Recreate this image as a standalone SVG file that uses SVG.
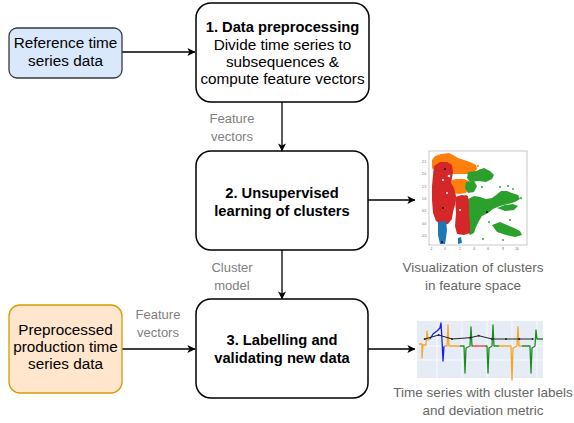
<svg xmlns="http://www.w3.org/2000/svg" width="574" height="423" viewBox="0 0 574 423">
<style>
  .box{fill:#fff;stroke:#000;stroke-width:1.5}
  .t{font-family:"Liberation Sans",Arial,sans-serif;font-size:15.3px;fill:#000;text-anchor:middle}
  .b{font-weight:bold;font-size:14.7px}
  .lbl{font-family:"Liberation Sans",Arial,sans-serif;font-size:13px;fill:#808080;text-anchor:middle}
  .cap{font-family:"Liberation Sans",Arial,sans-serif;font-size:13.5px;fill:#666;text-anchor:middle}
  .edge{stroke:#000;stroke-width:1.3;fill:none;marker-end:url(#arr)}
  .tick{font-family:"Liberation Sans",Arial,sans-serif;font-size:3px;fill:#555;text-anchor:middle}
  .ts{fill:none;stroke-width:1.3;stroke-linejoin:round}
  .o{fill:#ff7f0e}.g{fill:#2ca02c}.r{fill:#d62728}.bl{fill:#1f77b4}
</style>
<defs>
  <marker id="arr" viewBox="0 0 10 10" refX="9.5" refY="5" markerWidth="8" markerHeight="8" markerUnits="userSpaceOnUse" orient="auto">
    <path d="M0,0 L10,5 L0,10 L2.5,5 Z" fill="#000"/>
  </marker>
</defs>

<g id="edges">
  <line class="edge" x1="122" y1="52" x2="195" y2="52"/>
  <line class="edge" x1="282" y1="102" x2="282" y2="151"/>
  <line class="edge" x1="368" y1="200" x2="415" y2="200"/>
  <line class="edge" x1="282" y1="250" x2="282" y2="299"/>
  <line class="edge" x1="122" y1="349" x2="195" y2="349"/>
  <line class="edge" x1="368" y1="349" x2="415" y2="349"/>
  <text class="lbl" x="232" y="123">Feature</text>
  <text class="lbl" x="232" y="141">vectors</text>
  <text class="lbl" x="232" y="272">Cluster</text>
  <text class="lbl" x="232" y="290">model</text>
  <text class="lbl" x="158" y="319">Feature</text>
  <text class="lbl" x="158" y="337">vectors</text>
</g>

<g id="ref">
  <rect x="9" y="28" width="113" height="50" rx="8" fill="#dae8fc" stroke="#36393d" stroke-width="1.3"/>
  <text class="t" x="65.5" y="48">Reference time</text>
  <text class="t" x="65.5" y="66">series data</text>
</g>

<g id="step1">
  <rect class="box" x="196" y="3" width="173" height="99" rx="15"/>
  <text class="t b" x="282.5" y="32">1. Data preprocessing</text>
  <text class="t" x="282.5" y="50">Divide time series to</text>
  <text class="t" x="282.5" y="67">subsequences &amp;</text>
  <text class="t" x="282.5" y="84">compute feature vectors</text>
</g>

<g id="step2">
  <rect class="box" x="196" y="151" width="172" height="99" rx="15"/>
  <text class="t b" x="282" y="198">2. Unsupervised</text>
  <text class="t b" x="282" y="216">learning of clusters</text>
</g>

<g id="step3">
  <rect class="box" x="196" y="299" width="172" height="99" rx="15"/>
  <text class="t b" x="282" y="345">3. Labelling and</text>
  <text class="t b" x="282" y="363">validating new data</text>
</g>

<g id="prod">
  <rect x="9" y="305" width="113" height="88" rx="11" fill="#ffe6cc" stroke="#d79b00" stroke-width="1.3"/>
  <text class="t" x="65.5" y="335">Preprocessed</text>
  <text class="t" x="65.5" y="352">production time</text>
  <text class="t" x="65.5" y="369">series data</text>
</g>

<g id="scatter">
  <rect x="429" y="151" width="98" height="94" fill="#fff" stroke="#bbb" stroke-width="0.8"/>
  <!-- orange -->
  <path class="o" d="M432,160 L435,156 L441,154 L449,153 L453,155 L458,158 L464,160 L470,162 L476,165 L477,169 L474,173 L468,174 L460,174 L452,174 L444,173 L436,172 L432,168 Z"/>
  <path class="o" d="M450,181 L456,179 L464,179 L469,181 L469,188 L466,193 L458,194 L451,193 L449,187 Z"/>
  <circle class="o" cx="478" cy="166" r="1.1"/><circle class="o" cx="480" cy="170" r="1"/><circle class="o" cx="470" cy="178" r="1"/>
  <!-- green -->
  <path class="g" d="M468,172 L476,171 L484,168 L490,171 L494,175 L492,179 L486,182 L478,181 L470,182 L467,178 Z"/>
  <path class="g" d="M466,182 L474,181 L477,186 L474,192 L468,193 L465,188 Z"/>
  <path class="g" d="M468,199 L474,196 L480,197 L486,199 L492,198 L496,195 L501,191 L507,191 L512,193 L518,195 L520,199 L515,202 L508,204 L500,206 L493,209 L488,213 L482,216 L479,221 L476,227 L474,233 L470,235 L467,230 L467,215 Z"/>
  <path class="g" d="M492,225 L500,222 L507,225 L514,228 L520,231 L522,235 L515,237 L506,235 L497,232 Z"/>
  <path class="g" d="M497,208 L505,205 L513,204 L518,206 L514,210 L505,211 Z"/>
  <circle class="g" cx="482" cy="187" r="1"/><circle class="g" cx="500" cy="187" r="1"/><circle class="g" cx="508" cy="186" r="1"/><circle class="g" cx="513" cy="189" r="0.9"/>
  <circle class="g" cx="521" cy="198" r="1"/><circle class="g" cx="489" cy="222" r="1"/><circle class="g" cx="483" cy="239" r="1"/><circle class="g" cx="510" cy="220" r="1"/><circle class="g" cx="503" cy="240" r="0.9"/><circle class="g" cx="466" cy="196" r="1"/>
  <!-- red -->
  <path class="r" d="M434,166 L440,162 L447,162 L452,165 L453,172 L452,178 L451,183 L454,188 L456,196 L455,205 L453,212 L452,219 L448,224 L442,225 L436,221 L433,213 L432,200 L432,186 L433,175 Z"/>
  <path class="r" d="M455,197 L462,195 L468,196 L469,204 L469,214 L470,224 L470,233 L464,235 L457,234 L455,226 L456,213 Z"/>
  <circle cx="449" cy="176" r="1.3" fill="#fff"/><circle cx="443" cy="180" r="1.1" fill="#fff"/><circle cx="447" cy="193" r="0.9" fill="#fff"/><circle cx="460" cy="210" r="1" fill="#fff"/>
  <!-- blue -->
  <path class="bl" d="M438,222 L446,221 L447,230 L446,238 L445,244 L440,244 L438,235 Z"/>
  <path class="bl" d="M458,238 L461,237 L462,243 L458,244 Z"/>
  <!-- centroids -->
  <circle cx="445" cy="169" r="1" fill="#000"/><circle cx="443" cy="208" r="1" fill="#000"/><circle cx="487" cy="212" r="1" fill="#000"/><circle cx="442" cy="242" r="1" fill="#000"/>
  <!-- ticks -->
  <text class="tick" x="431" y="250">-2</text><text class="tick" x="445" y="250">0</text><text class="tick" x="460" y="250">2</text><text class="tick" x="474" y="250">4</text><text class="tick" x="488" y="250">6</text><text class="tick" x="503" y="250">8</text><text class="tick" x="517" y="250">10</text>
  <text class="tick" x="424" y="163">2.5</text><text class="tick" x="424" y="175">2.0</text><text class="tick" x="424" y="188">1.5</text><text class="tick" x="424" y="200">1.0</text><text class="tick" x="424" y="212">0.5</text><text class="tick" x="424" y="225">0.0</text><text class="tick" x="424" y="237">-0.5</text>
  <text class="cap" x="473" y="272">Visualization of clusters</text>
  <text class="cap" x="473" y="290">in feature space</text>
</g>

<g id="timeseries">
  <rect x="417" y="321" width="126" height="57" fill="#e5ecf6"/>
  <g stroke="#fff" stroke-width="0.8">
    <line x1="437" y1="321" x2="437" y2="378"/><line x1="462" y1="321" x2="462" y2="378"/><line x1="487" y1="321" x2="487" y2="378"/><line x1="512" y1="321" x2="512" y2="378"/><line x1="537" y1="321" x2="537" y2="378"/>
    <line x1="417" y1="346" x2="543" y2="346"/><line x1="417" y1="360" x2="543" y2="360"/>
  </g>
  <path class="ts" stroke="#f5a623" d="M419,344 L422,344 L422,358 L423,345 L426,345 L427,331 L428,340 L430,339"/>
  <path class="ts" stroke="#1a1aff" d="M430,339 L433,334 L437,331 L440,328 L441,323 L442,340 L443,361 L444,346"/>
  <path class="ts" stroke="#f5a623" d="M444,346 L447,346 L448,325 L449,346 L460,346"/>
  <path class="ts" stroke="#1e8c1e" d="M460,346 L464,346 L465,373 L466,348 L470,346 L471,327 L472,346 L473,346"/>
  <path class="ts" stroke="#ff2a2a" d="M473,346 L485,346"/>
  <path class="ts" stroke="#1e8c1e" d="M485,346 L487,346 L488,373 L489,348 L492,346 L493,325 L494,346 L499,346"/>
  <path class="ts" stroke="#f5a623" d="M499,346 L511,346 L512,380 L513,348 L517,346 L518,327 L519,346 L522,346"/>
  <path class="ts" stroke="#1e8c1e" d="M522,346 L530,346 L531,373 L532,348 L535,346 L536,330 L537,339 L543,339"/>
  <path fill="none" stroke="#222" stroke-width="1" d="M424.7,339 L438.7,335 L452,339 L470.3,337.7 L478.7,335.7 L492,339 L532.7,339"/>
  <g fill="#222">
    <circle cx="424.7" cy="339" r="1"/><circle cx="438.7" cy="335" r="1"/><circle cx="452" cy="339" r="1"/><circle cx="470.3" cy="337.7" r="1"/><circle cx="478.7" cy="335.7" r="1"/><circle cx="492" cy="339" r="1"/><circle cx="506" cy="339" r="1"/><circle cx="519.3" cy="339" r="1"/><circle cx="532.7" cy="339" r="1"/>
  </g>
  <text class="cap" x="483" y="397">Time series with cluster labels</text>
  <text class="cap" x="483" y="415">and deviation metric</text>
</g>
</svg>
